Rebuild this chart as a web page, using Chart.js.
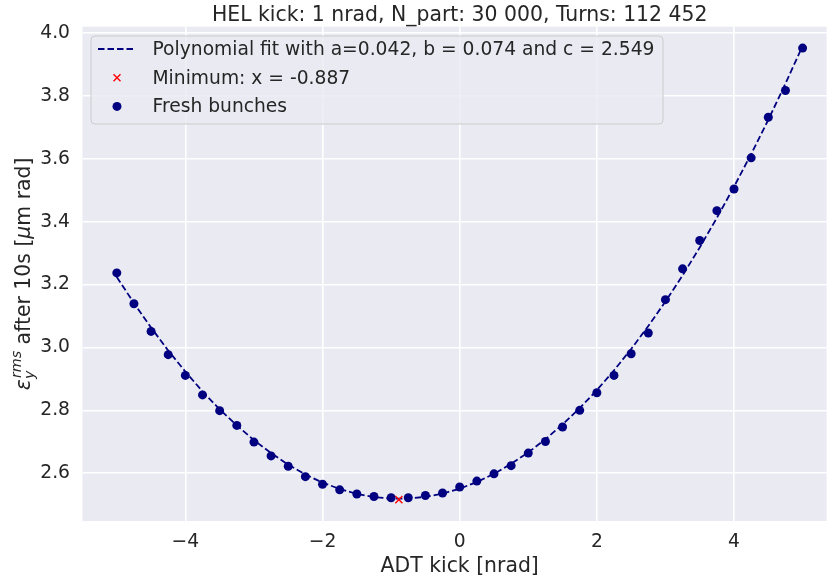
<!DOCTYPE html>
<html>
<head>
<meta charset="utf-8">
<script src="https://cdn.jsdelivr.net/npm/chart.js@4.4.1/dist/chart.umd.min.js"></script>
<style>
  html, body { margin: 0; padding: 0; background: #ffffff; }
  #wrap { width: 833px; height: 580px; }
</style>
</head>
<body>
<div id="wrap"><canvas id="c" width="833" height="580"></canvas></div>
<script>
// ---- data ----
const chartTitle = "HEL kick: 1 nrad, N_part: 30 000, Turns: 112 452";
const xAxisTitle = "ADT kick [nrad]";
const legendLabels = [
  "Polynomial fit with a=0.042, b = 0.074 and c = 2.549",
  "Minimum: x = -0.887",
  "Fresh bunches"
];
const kickValues = [-5, -4.75, -4.5, -4.25, -4, -3.75, -3.5, -3.25, -3, -2.75, -2.5, -2.25, -2, -1.75, -1.5, -1.25, -1, -0.75, -0.5, -0.25,
  0, 0.25, 0.5, 0.75, 1, 1.25, 1.5, 1.75, 2, 2.25, 2.5, 2.75, 3, 3.25, 3.5, 3.75, 4, 4.25, 4.5, 4.75, 5];
const emittance = [3.237, 3.139, 3.051, 2.977, 2.911, 2.849, 2.799, 2.752, 2.699, 2.655, 2.622, 2.589, 2.565, 2.547, 2.534, 2.526, 2.522, 2.522, 2.529, 2.537,
  2.556, 2.575, 2.598, 2.624, 2.664, 2.701, 2.747, 2.800, 2.856, 2.911, 2.980, 3.046, 3.152, 3.250, 3.340, 3.435, 3.504, 3.603, 3.732, 3.817, 3.952];
const fitValues = [3.224, 3.141, 3.063, 2.990, 2.923, 2.860, 2.803, 2.752, 2.705, 2.664, 2.627, 2.596, 2.570, 2.550, 2.534, 2.524, 2.519, 2.519, 2.525, 2.535,
  2.551, 2.572, 2.598, 2.630, 2.666, 2.708, 2.755, 2.807, 2.864, 2.927, 2.995, 3.068, 3.146, 3.229, 3.318, 3.412, 3.511, 3.615, 3.724, 3.839, 3.959];
const minimumX = [-0.887];
const minimumY = [2.516];
const xTickValues = [-4, -2, 0, 2, 4];
const xTickLabels = ["\u22124", "\u22122", "0", "2", "4"];
const yTickValues = [2.6, 2.8, 3.0, 3.2, 3.4, 3.6, 3.8, 4.0];
const yTickLabels = ["2.6", "2.8", "3.0", "3.2", "3.4", "3.6", "3.8", "4.0"];

// ---- style ----
const FONT = "'DejaVu Sans', 'Liberation Sans', sans-serif";
const TXT = "#262626";
const NAVY = "#000080";
const BG = "#EAEAF2";

const bgPlugin = {
  id: 'bg',
  beforeDraw(chart) {
    const ctx = chart.ctx, a = chart.chartArea;
    ctx.save();
    ctx.fillStyle = '#ffffff';
    ctx.fillRect(0, 0, chart.width, chart.height);
    ctx.fillStyle = BG;
    ctx.fillRect(a.left, a.top, a.right - a.left, a.bottom - a.top);
    ctx.restore();
  }
};

function drawCross(ctx, x, y, r, color, lw) {
  ctx.save();
  ctx.strokeStyle = color; ctx.lineWidth = lw;
  ctx.beginPath();
  ctx.moveTo(x - r, y - r); ctx.lineTo(x + r, y + r);
  ctx.moveTo(x - r, y + r); ctx.lineTo(x + r, y - r);
  ctx.stroke();
  ctx.restore();
}

const textPlugin = {
  id: 'texts',
  afterDraw(chart) {
    const ctx = chart.ctx;
    const xs = chart.scales.x;
    const cx = xs.getPixelForValue(0);
    ctx.save();
    ctx.fillStyle = TXT;
    // title
    ctx.font = "20.4px " + FONT;
    ctx.textAlign = 'center';
    ctx.textBaseline = 'alphabetic';
    ctx.fillText(chartTitle, cx, 20.5);
    // x axis title
    ctx.fillText(xAxisTitle, cx, 571.5);

    // y axis title (rotated, mathtext-like)
    const fs = 20.4, fsSmall = 14.3;
    const pieces = [
      { t: "\u03B5", font: "italic " + fs + "px " + FONT, dy: 0 },
      { t: "y", font: "italic " + fsSmall + "px " + FONT, dy: 4.2, group: 'subsup' },
      { t: "rms", font: "italic " + fsSmall + "px " + FONT, dy: -8.8, group: 'subsup' },
      { t: " after 10s [", font: fs + "px " + FONT, dy: 0 },
      { t: "\u03BC", font: "italic " + fs + "px " + FONT, dy: 0 },
      { t: "m rad]", font: fs + "px " + FONT, dy: 0 }
    ];
    const widths = pieces.map(p => { ctx.font = p.font; return ctx.measureText(p.t).width; });
    const subW = Math.max(widths[1], widths[2] + 1);
    const total = widths[0] + subW + widths[3] + widths[4] + widths[5];
    const area = chart.chartArea;
    const cy = (area.top + area.bottom) / 2;
    ctx.translate(30, cy);
    ctx.rotate(-Math.PI / 2);
    ctx.textAlign = 'left';
    let x = -total / 2;
    ctx.font = pieces[0].font; ctx.fillText(pieces[0].t, x, 0); x += widths[0];
    ctx.font = pieces[1].font; ctx.fillText(pieces[1].t, x, pieces[1].dy);
    ctx.font = pieces[2].font; ctx.fillText(pieces[2].t, x + 1, pieces[2].dy);
    x += subW;
    for (let i = 3; i < 6; i++) {
      ctx.font = pieces[i].font; ctx.fillText(pieces[i].t, x, 0); x += widths[i];
    }
    ctx.restore();

    // legend
    ctx.save();
    const bx = 91, by = 36, bw = 572, bh = 88, rr = 4;
    ctx.beginPath();
    ctx.moveTo(bx + rr, by);
    ctx.lineTo(bx + bw - rr, by); ctx.arcTo(bx + bw, by, bx + bw, by + rr, rr);
    ctx.lineTo(bx + bw, by + bh - rr); ctx.arcTo(bx + bw, by + bh, bx + bw - rr, by + bh, rr);
    ctx.lineTo(bx + rr, by + bh); ctx.arcTo(bx, by + bh, bx, by + bh - rr, rr);
    ctx.lineTo(bx, by + rr); ctx.arcTo(bx, by, bx + rr, by, rr);
    ctx.closePath();
    ctx.fillStyle = 'rgba(234,234,242,0.8)';
    ctx.fill();
    ctx.strokeStyle = '#CCCCCC';
    ctx.lineWidth = 1;
    ctx.stroke();

    const rows = [49, 77.7, 106.4];
    // handle 1: dashed line
    ctx.strokeStyle = NAVY; ctx.lineWidth = 1.8; ctx.setLineDash([6.5, 3]);
    ctx.beginPath(); ctx.moveTo(98, rows[0]); ctx.lineTo(136, rows[0]); ctx.stroke();
    ctx.setLineDash([]);
    // handle 2: red x
    drawCross(ctx, 117, rows[1], 3.5, '#FF0000', 1.4);
    // handle 3: dot
    ctx.fillStyle = NAVY;
    ctx.beginPath(); ctx.arc(117, rows[2], 4.5, 0, Math.PI * 2); ctx.fill();
    ctx.fillStyle = TXT;
    ctx.font = "18.7px " + FONT;
    ctx.textAlign = 'left';
    ctx.textBaseline = 'middle';
    for (let i = 0; i < 3; i++) ctx.fillText(legendLabels[i], 152.5, rows[i] + 1);
    ctx.restore();
  }
};

const fitData = kickValues.map((x, i) => ({ x: x, y: fitValues[i] }));
const pointData = kickValues.map((x, i) => ({ x: x, y: emittance[i] }));
const minData = minimumX.map((x, i) => ({ x: x, y: minimumY[i] }));

new Chart(document.getElementById('c'), {
  type: 'scatter',
  data: {
    datasets: [
      {
        label: legendLabels[0], data: fitData, showLine: true, order: 2,
        borderColor: NAVY, borderWidth: 1.8, borderDash: [6.5, 3], pointRadius: 0, fill: false, tension: 0
      },
      {
        label: legendLabels[1], data: minData, order: 1,
        pointStyle: 'crossRot', pointRadius: 5, borderColor: '#FF0000', backgroundColor: '#FF0000', pointBorderWidth: 1.4
      },
      {
        label: legendLabels[2], data: pointData, order: 0,
        pointStyle: 'circle', pointRadius: 4.5, backgroundColor: NAVY, borderColor: NAVY, pointBorderWidth: 0
      }
    ]
  },
  options: {
    responsive: false,
    animation: false,
    devicePixelRatio: 1,
    layout: { padding: { top: 26.7, left: 0, right: 0, bottom: 0 } },
    plugins: { legend: { display: false }, title: { display: false }, tooltip: { enabled: false } },
    scales: {
      x: {
        type: 'linear', min: -5.5, max: 5.35,
        afterFit(s) { s.height = 59; },
        afterBuildTicks(s) { s.ticks = xTickValues.map(v => ({ value: v })); },
        ticks: {
          autoSkip: false, maxRotation: 0, padding: 10, color: TXT,
          font: { family: FONT, size: 18.7 },
          callback: (v, i) => xTickLabels[i]
        },
        grid: { color: '#FFFFFF', lineWidth: 1.6, drawTicks: false },
        border: { display: false }
      },
      y: {
        type: 'linear', min: 2.448, max: 4.020,
        afterFit(s) { s.width = 82.5; },
        afterBuildTicks(s) { s.ticks = yTickValues.map(v => ({ value: v })); },
        ticks: {
          autoSkip: false, padding: 12.5, color: TXT,
          font: { family: FONT, size: 18.7 },
          callback: (v, i) => yTickLabels[i]
        },
        grid: { color: '#FFFFFF', lineWidth: 1.6, drawTicks: false },
        border: { display: false }
      }
    }
  },
  plugins: [bgPlugin, textPlugin]
});
</script>
</body>
</html>
